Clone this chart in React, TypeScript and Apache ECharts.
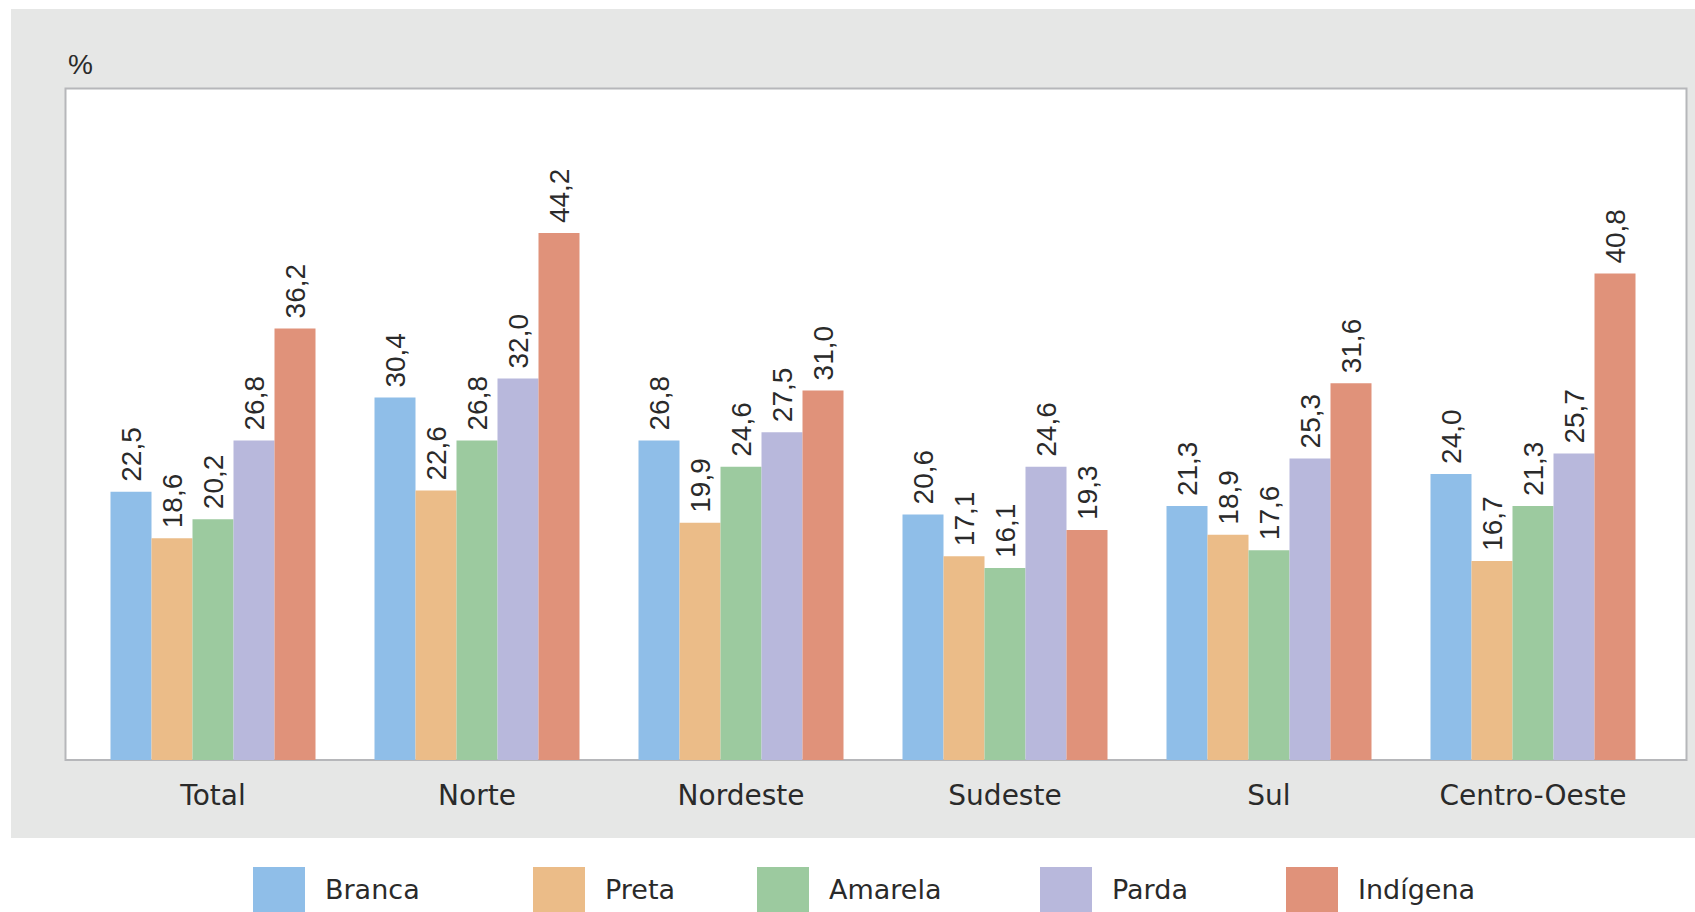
import React, { useEffect, useRef } from "react";
import * as echarts from "echarts";

const categories = ["Total", "Norte", "Nordeste", "Sudeste", "Sul", "Centro-Oeste"];
const seriesNames = ["Branca", "Preta", "Amarela", "Parda", "Indígena"];
const branca = [22.5, 30.4, 26.8, 20.6, 21.3, 24.0];
const preta = [18.6, 22.6, 19.9, 17.1, 18.9, 16.7];
const amarela = [20.2, 26.8, 24.6, 16.1, 17.6, 21.3];
const parda = [26.8, 32.0, 27.5, 24.6, 25.3, 25.7];
const indigena = [36.2, 44.2, 31.0, 19.3, 31.6, 40.8];
const seriesData = [branca, preta, amarela, parda, indigena];
const colors = ["#8fbee8", "#ebbc88", "#9cca9f", "#b8b8dc", "#e0927a"];
const legendLeft = [253, 533, 757, 1040, 1286];

export default function App() {
  const ref = useRef<HTMLDivElement>(null);
  useEffect(() => {
    if (!ref.current) return;
    const chart = echarts.init(ref.current, undefined, { renderer: "svg" });
    chart.setOption({
      animation: false,
      backgroundColor: "#ffffff",
      graphic: [
        {
          type: "rect",
          z: -10,
          shape: { x: 11, y: 9, width: 1684, height: 829 },
          style: { fill: "#e6e7e6" },
          silent: true,
        },
        {
          type: "rect",
          z: -9,
          shape: { x: 65.5, y: 88.5, width: 1621, height: 671.5 },
          style: { fill: "#ffffff", stroke: "#b6b7ba", lineWidth: 2 },
          silent: true,
        },
        {
          type: "text",
          x: 68,
          y: 50,
          style: {
            text: "%",
            fontSize: 28,
            fontFamily: "Liberation Sans, Arial, sans-serif",
            fill: "#2a2a2a",
          },
        },
      ],
      grid: { left: 81, right: 30, top: 90, bottom: 152, containLabel: false },
      xAxis: {
        type: "category",
        data: categories,
        axisLine: { show: false },
        axisTick: { show: false },
        axisLabel: {
          margin: 21,
          fontSize: 28,
          color: "#2a2a2a",
          fontFamily: "DejaVu Sans, sans-serif",
        },
      },
      yAxis: {
        type: "value",
        min: 0,
        max: 56.2,
        show: false,
        splitLine: { show: false },
      },
      legend: seriesNames.map((n, i) => ({
        data: [{ name: n, icon: "rect" }],
        left: legendLeft[i],
        top: 867,
        padding: 0,
        itemWidth: 52,
        itemHeight: 45,
        textStyle: {
          fontSize: 27,
          color: "#2a2a2a",
          fontFamily: "DejaVu Sans, sans-serif",
          padding: [0, 0, 0, 15],
        },
      })),
      series: seriesNames.map((n, i) => ({
        name: n,
        type: "bar",
        data: seriesData[i],
        barWidth: 41,
        barGap: "0%",
        itemStyle: { color: colors[i] },
        label: {
          show: true,
          position: "top",
          rotate: 90,
          align: "left",
          verticalAlign: "middle",
          distance: 10,
          fontSize: 28,
          color: "#2a2a2a",
          fontFamily: "Liberation Sans, Arial, sans-serif",
          formatter: (p: any) => Number(p.value).toFixed(1).replace(".", ","),
        },
      })),
    });
    return () => chart.dispose();
  }, []);
  return (
    <div
      ref={ref}
      style={{ position: "absolute", left: 0, top: 0, width: 1695, height: 912 }}
    />
  );
}
